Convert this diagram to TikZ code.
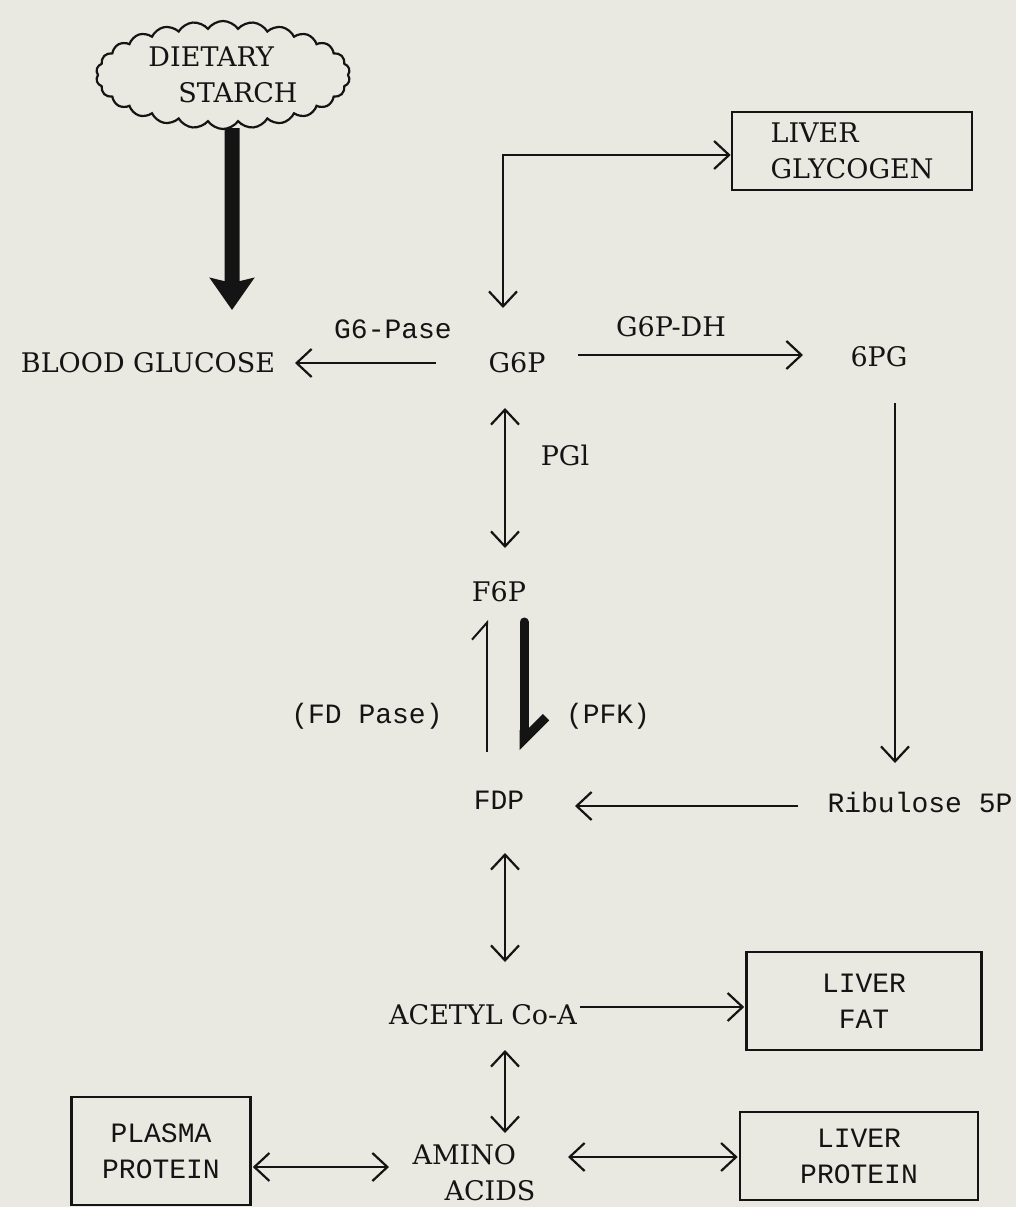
\documentclass[tikz,border=0pt]{standalone}
\usepackage{fontspec}
\newfontfamily\slabfont{DejaVu Serif}
\newfontfamily\typefont{Liberation Mono}
\usetikzlibrary{arrows.meta, calc, shapes.symbols}
\definecolor{paper}{RGB}{233,233,225}
\definecolor{ink}{RGB}{20,20,20}

\begin{document}
\begin{tikzpicture}[x=1pt, y=-1pt,
  lbl/.style={font=\slabfont\fontsize{27}{36}\selectfont, text=ink, inner sep=0pt},
  tw/.style={font=\typefont\fontsize{28}{36}\selectfont, text=ink, inner sep=0pt},
  store/.style={rectangle, draw=ink, line width=2.6pt, align=center},
  starchcloud/.style={lbl, align=left, draw=ink, line width=2.2pt, cloud, cloud puffs=26,
                      cloud puff arc=110, cloud ignores aspect,
                      minimum width=254pt, minimum height=108pt},
  flow/.style={draw=ink, line width=2.2pt, -{Straight Barb[length=15pt, width=28pt]}},
  twoway/.style={flow, {Straight Barb[length=15pt, width=28pt]}-{Straight Barb[length=15pt, width=28pt]}},
  bulk/.style={draw=ink, line width=15pt, -{Stealth[length=32pt, width=44pt, inset=5pt]}},
  halfup/.style={draw=ink, line width=2pt, -{Straight Barb[left, length=17pt, width=30pt]}},
  halfdown/.style={draw=ink, line width=9pt, line cap=round, -{Straight Barb[left, length=22pt, width=44pt]}}
]
  \path[use as bounding box, fill=paper] (0,0) rectangle (1016,1207);

  \node[starchcloud] (starch) at (223,75) {DIETARY\\\hspace*{30pt}STARCH};
  \node[lbl] (blood) at (148,363) {BLOOD GLUCOSE};
  \node[lbl] (g6p) at (517,363) {G6P};
  \node[tw] (g6pase) at (393,329) {G6-Pase};
  \node[lbl] (g6pdh) at (671,327) {G6P-DH};
  \node[lbl] (pg) at (879,357) {6PG};
  \node[lbl, store, align=left, minimum width=240pt, minimum height=78pt] (glycogen) at (852,151) {LIVER\\GLYCOGEN};
  \node[lbl] (pgi) at (565,455) {PGl};
  \node[lbl] (f6p) at (499,592) {F6P};
  \node[tw] (fdpase) at (367,716) {(FD Pase)};
  \node[tw] (pfk) at (608,716) {(PFK)};
  \node[tw] (fdp) at (499,800) {FDP};
  \node[tw] (ribulose) at (920,802) {Ribulose 5P};
  \node[lbl] (acetyl) at (483,1015) {ACETYL Co-A};
  \node[tw, store, minimum width=235pt, minimum height=98pt] (fat) at (864,1001) {LIVER\\FAT};
  \node[lbl, align=left] (amino) at (474,1173) {AMINO\\\hspace*{32pt}ACIDS};
  \node[tw, store, minimum width=179pt, minimum height=108pt] (plasma) at (161,1151) {PLASMA\\PROTEIN};
  \node[tw, store, minimum width=238pt, minimum height=88pt] (lprotein) at (859,1156) {LIVER\\PROTEIN};

  \draw[bulk] ($(starch.south)+(9,-2)$) -- ($(blood)+(84,-53)$);
  \draw[flow] ($(g6p)+(-81,0)$) -- ($(blood)+(147,0)$);
  \draw[flow] ($(g6p)+(61,-8)$) -- ($(pg)+(-76,-2)$);
  \draw[twoway] ($(g6p)+(-14,-55)$) |- ($(glycogen.west)+(0,4)$);
  \draw[twoway] ($(g6p)+(-12,45)$) -- ($(f6p)+(6,-44)$);
  \draw[halfup] ($(fdp)+(-12,-48)$) -- ($(f6p)+(-12,28)$);
  \draw[halfdown] ($(f6p)+(25,30)$) -- ($(fdp)+(25,-50)$);
  \draw[flow] ($(pg)+(16,46)$) -- ($(ribulose)+(-25,-39)$);
  \draw[flow] ($(ribulose)+(-122,4)$) -- ($(fdp)+(76,6)$);
  \draw[twoway] ($(fdp)+(6,53)$) -- ($(acetyl)+(22,-53)$);
  \draw[flow] ($(acetyl)+(97,-8)$) -- ($(fat.west)+(-1,6)$);
  \draw[twoway] ($(acetyl)+(22,35)$) -- ($(amino)+(31,-40)$);
  \draw[twoway] ($(plasma.east)+(1,16)$) -- ($(amino)+(-85,-6)$);
  \draw[twoway] ($(amino)+(94,-16)$) -- ($(lprotein.west)+(-1,1)$);
\end{tikzpicture}
\end{document}
